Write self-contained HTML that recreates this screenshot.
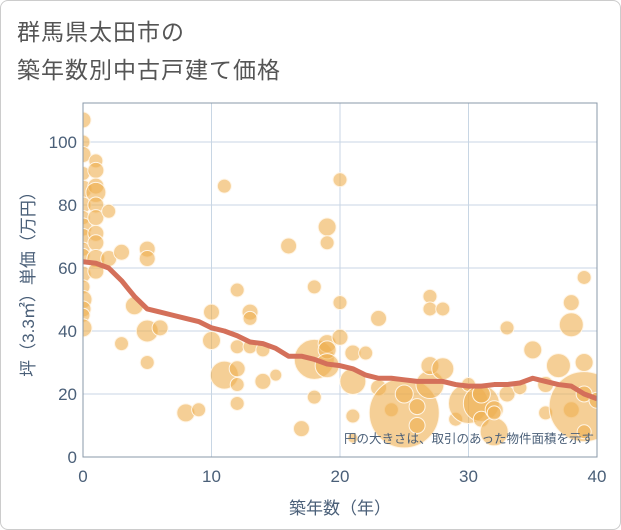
<!DOCTYPE html>
<html><head><meta charset="utf-8"><style>
body{margin:0;background:#fff;font-family:"Liberation Sans","Noto Sans CJK JP",sans-serif}
#card{position:absolute;left:0;top:0;width:619px;height:528px;border:1px solid #ccc;border-radius:8px;background:#fff}
#title{position:absolute;left:17px;top:13px;font-size:23px;line-height:38px;color:#555;letter-spacing:1px}
svg{position:absolute;left:0;top:0}
</style></head><body>
<div id="card"></div>
<div id="title">群馬県太田市の<br>築年数別中古戸建て価格</div>
<svg id="chart" width="621" height="530"></svg>
<script>
const xTicks=[0,10,20,30,40];
const yTicks=[0,20,40,60,80,100];
const trendX=[0,1,2,3,4,5,6,7,8,9,10,11,12,13,14,15,16,17,18,19,20,21,22,23,24,25,26,27,28,29,30,31,32,33,34,35,36,37,38,39,40];
const trendY=[62,61.5,60,56,51,47,46,45,44,43,41,40,38.5,36.5,36,34.5,32,32,31,29.5,29,28,26,25,25,24.5,24,24,24,23,22.5,22.5,23,23,23.5,25,24,23,22.5,20,18.5];
const ptX=[
0,0,0,0,0,0,0,0,0,0,
0,0,0,0,0,0,0,1,1,1,
1,1,1,1,1,1,1,2,2,3,
3,4,5,5,5,5,6,8,9,10,
10,11,11,12,12,12,12,12,13,13,
13,14,14,15,16,17,18,18,18,19,
19,19,19,19,20,20,20,21,21,21,
21,22,23,23,24,25,25,26,26,27,
27,27,27,28,28,29,30,30,31,31,
31,32,32,32,33,33,34,35,36,36,
37,38,38,38,39,39,39,39,39,40];
const ptY=[
107,100,96,90,85,80,76,73,70,66,
58,54,50,47,45,41,64,94,91,86,
84,80,76,71,68,63,59,78,63,65,
36,48,66,63,40,30,41,14,15,46,
37,86,26,53,35,28,23,17,46,44,
35,34,24,26,67,9,54,31,19,73,
68,36,34,29,88,49,38,33,24,13,
6,33,44,22,15,14,20,10,16,51,
47,23,29,28,47,12,17,23,17,12,
20,8,15,14,41,20,22,34,23,14,
29,49,42,15,16,57,30,20,8,18];
const ptR=[
8,7,8,7,9,8,7,9,8,7,
8,7,9,8,7,9,7,7,8,8,
10,8,8,8,8,9,8,7,8,8,
7,9,8,8,11,7,8,9,7,8,
9,7,14,7,7,8,7,7,8,7,
7,7,8,6,8,8,7,20,7,9,
7,9,9,12,7,7,8,8,13,7,
5,7,8,8,7,35,9,8,8,7,
7,14,9,11,7,7,20,7,18,8,
9,14,9,7,7,8,7,9,8,7,
12,8,12,8,35,7,9,8,7,8];
const svg=document.getElementById('chart');const NS='http://www.w3.org/2000/svg';
const L=83,R=597,T=103,B=457;
const sx=v=>L+(v/40)*(R-L);const sy=v=>B-v*3.15;
function mk(t,a,p){const e=document.createElementNS(NS,t);for(const k in a)e.setAttribute(k,a[k]);(p||svg).appendChild(e);return e;}
const clip=mk('clipPath',{id:'cp'});mk('rect',{x:L,y:T,width:R-L,height:B-T},clip);
for(const t of xTicks){const g=mk('line',{x1:sx(t),x2:sx(t),y1:T,y2:B,stroke:'#c8d6e4','stroke-width':1});


const l=mk('text',{x:sx(t),y:482,'text-anchor':'middle','font-size':17,fill:'#4a5f78'});l.textContent=t;

}
for(const t of yTicks){const g=mk('line',{x1:L,x2:R,y1:sy(t),y2:sy(t),stroke:'#c8d6e4','stroke-width':1});


const l=mk('text',{x:L-6,y:sy(t)+6,'text-anchor':'end','font-size':17,fill:'#4a5f78'});l.textContent=t;

}
const pg=mk('g',{'clip-path':'url(#cp)'});


for(let i=0;i<ptX.length;i++){const c=mk('circle',{cx:sx(ptX[i]),cy:sy(ptY[i]),r:ptR[i],fill:'rgba(239,175,80,0.6)',stroke:'#fff5e6','stroke-width':1},pg);

}
const tl=mk('polyline',{points:trendX.map((x,i)=>sx(x)+','+sy(trendY[i])).join(' '),fill:'none',stroke:'#d4705a','stroke-width':5,'stroke-linejoin':'round','clip-path':'url(#cp)'});


const ax=mk('rect',{x:L,y:T,width:R-L,height:B-T,fill:'none',stroke:'#8a98a8','stroke-width':1});


const note=mk('text',{x:594,y:443,'text-anchor':'end','font-size':12.5,fill:'#4a5f78'});note.textContent='円の大きさは、取引のあった物件面積を示す';


const xt=mk('text',{x:340,y:514,'text-anchor':'middle','font-size':17,fill:'#4a5f78'});xt.textContent='築年数（年）';


const yt=mk('text',{x:0,y:0,'text-anchor':'middle','font-size':17,fill:'#4a5f78',transform:'translate(34,280) rotate(-90)'});yt.textContent='坪（3.3㎡）単価（万円）';


</script>
</body></html>
